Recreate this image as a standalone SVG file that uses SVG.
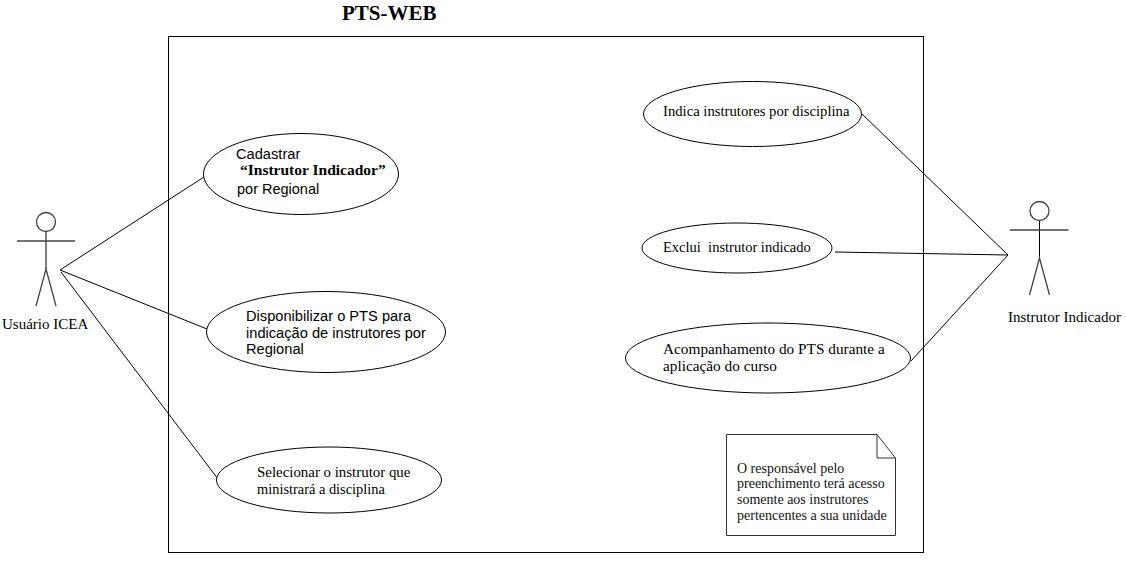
<svg xmlns="http://www.w3.org/2000/svg" width="1126" height="566" viewBox="0 0 1126 566">
<style>
.s{font-family:"Liberation Serif","Times New Roman",serif;fill:#000;font-size:14.9px}
.a{font-family:"Liberation Sans",Arial,sans-serif;fill:#000;font-size:14.65px}
.n{font-family:"Liberation Serif","Times New Roman",serif;fill:#111;font-size:14px}
.u{fill:#fff;stroke:#000;stroke-width:1}
.c{fill:none;stroke:#000;stroke-width:1}
.g{fill:none;stroke:#444;stroke-width:1.3}
</style>
<rect width="1126" height="566" fill="#fff"/>
<text x="342" y="20" font-family="Liberation Serif,serif" font-size="21" font-weight="bold">PTS-WEB</text>
<rect id="system" x="168.500" y="36.500" width="755" height="516" fill="#fff" stroke="#000"/>
<g id="connectors" class="c">
<line x1="60" y1="270" x2="204" y2="177"/>
<line x1="60" y1="270" x2="207" y2="329"/>
<line x1="61" y1="272" x2="218" y2="479"/>
<line x1="862" y1="114" x2="1008" y2="255"/>
<line x1="835" y1="252" x2="1008" y2="255"/>
<line x1="911" y1="361" x2="1008" y2="255"/>
</g>
<g id="actor-icea">
<circle class="g" cx="46" cy="222" r="9.500"/>
<line class="c" x1="46" y1="232" x2="46" y2="269"/>
<line class="g" x1="17" y1="241" x2="75" y2="241"/>
<path class="g" d="M36 306L46 269L56 306"/>
<text class="s" x="2" y="329" style="font-size:15px">Usuário ICEA</text>
</g>
<g id="actor-indicador">
<circle class="g" cx="1039.500" cy="211" r="9.500"/>
<line class="c" x1="1039.500" y1="221" x2="1039.500" y2="258"/>
<line class="g" x1="1010" y1="230" x2="1068.500" y2="230"/>
<path class="g" d="M1029.500 295L1039.500 258L1049.500 295"/>
<text class="s" x="1008" y="322" style="font-size:15px">Instrutor Indicador</text>
</g>
<g id="uc-cadastrar">
<ellipse class="u" cx="301" cy="174" rx="97.500" ry="40.500"/>
<text class="a" x="236" y="159">Cadastrar</text>
<text class="s" x="240" y="175" font-weight="bold" style="font-size:15.5px">“Instrutor Indicador”</text>
<text class="a" x="237" y="194" style="font-size:14.5px">por Regional</text>
</g>
<g id="uc-disponibilizar">
<ellipse class="u" cx="326" cy="332" rx="119.500" ry="40.500"/>
<text class="a" x="246" y="321">Disponibilizar o PTS para</text>
<text class="a" x="246" y="338">indicação de instrutores por</text>
<text class="a" x="246" y="354">Regional</text>
</g>
<g id="uc-selecionar">
<ellipse class="u" cx="329" cy="480" rx="112.500" ry="33"/>
<text class="s" x="257" y="477">Selecionar o instrutor que</text>
<text class="s" x="257" y="494" style="font-size:14.4px">ministrará a disciplina</text>
</g>
<g id="uc-indica">
<ellipse class="u" cx="752.500" cy="114" rx="109" ry="32.500"/>
<text class="s" x="663" y="116" style="font-size:14.7px">Indica instrutores por disciplina</text>
</g>
<g id="uc-exclui">
<ellipse class="u" cx="737" cy="248" rx="95" ry="25"/>
<text class="s" x="663" y="252" style="font-size:14.5px" xml:space="preserve">Exclui  instrutor indicado</text>
</g>
<g id="uc-acompanhamento">
<ellipse class="u" cx="768" cy="358" rx="142.500" ry="35"/>
<text class="s" x="663" y="354" style="font-size:15.3px">Acompanhamento do PTS durante a</text>
<text class="s" x="663" y="371" style="font-size:15.3px">aplicação do curso</text>
</g>
<g id="note">
<path d="M726.500 434.500H877L895.500 458V535.500H726.500Z" fill="#fff" stroke="#333"/>
<path d="M877 434.500V458H895.500" fill="none" stroke="#333"/>
<text class="n" x="737" y="473">O responsável pelo</text>
<text class="n" x="737" y="488">preenchimento terá acesso</text>
<text class="n" x="737" y="504">somente aos instrutores</text>
<text class="n" x="737" y="520">pertencentes a sua unidade</text>
</g>
</svg>
